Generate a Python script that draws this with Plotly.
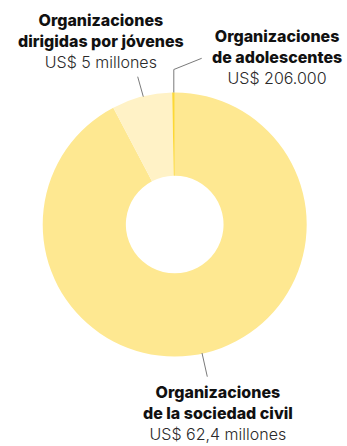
import plotly.graph_objects as go

W, H = 347, 446

categories = ["Organizaciones de la sociedad civil", "Organizaciones dirigidas por jóvenes", "Organizaciones de adolescentes"]
values = [62.4, 5.0, 0.206]  # millones US$
value_labels = ["US$ 62,4 millones", "US$ 5 millones", "US$ 206.000"]
title_lines = [["Organizaciones", "de la sociedad civil"], ["Organizaciones", "dirigidas por jóvenes"], ["Organizaciones", "de adolescentes"]]
colors = ["#fee891", "#fff2c6", "#fdd835"]

def px(x):
    return x / W

def py(y):
    return 1 - y / H

cx, cy, r = 174.7, 224.5, 132

fig = go.Figure(go.Pie(
    labels=categories,
    values=values,
    hole=0.37,
    sort=False,
    direction="clockwise",
    rotation=0,
    marker=dict(colors=colors, line=dict(width=0)),
    textinfo="none",
    hoverinfo="label+value",
    showlegend=False,
    domain=dict(x=[px(cx - r), px(cx + r)], y=[py(cy + r), py(cy - r)]),
))

FONT = "Inter"
# x-center and y-position (pixels) of each label block, with vertical anchor
label_pos = [(218, 446, "bottom"), (101, 41, "middle"), (277, 57, "middle")]
annotations = []
for (lx, ly, ya), tl, vl in zip(label_pos, title_lines, value_labels):
    text = "<br>".join(f"<span style='font-weight:800'>{t}</span>" for t in tl)
    text += f"<br><span style='font-weight:300;color:#2a2a2a'>{vl}</span>"
    annotations.append(dict(
        x=px(lx), y=py(ly), xref="paper", yref="paper",
        text=text, showarrow=False, align="center",
        xanchor="center", yanchor=ya,
        font=dict(family=FONT, size=16, color="#111111"),
    ))

line_style = dict(color="#7a7a7a", width=1)
shapes = [
    dict(type="line", xref="paper", yref="paper", x0=px(202), y0=py(353), x1=px(207.3), y1=py(376.7), line=line_style),
    dict(type="line", xref="paper", yref="paper", x0=px(137.7), y0=py(76.7), x1=px(143.3), y1=py(96.7), line=line_style),
    dict(type="path", xref="paper", yref="paper",
         path=f"M {px(201.7)},{py(58.3)} L {px(173.8)},{py(69.5)} L {px(173.8)},{py(92.5)}", line=line_style),
]

fig.update_layout(
    width=W, height=H,
    margin=dict(l=0, r=0, t=0, b=0),
    paper_bgcolor="white", plot_bgcolor="white",
    annotations=annotations, shapes=shapes,
)

fig.write_html(
    "out.html",
    config={"displayModeBar": False},
    post_script="document.body.style.margin='0';document.body.style.overflow='hidden';",
)
